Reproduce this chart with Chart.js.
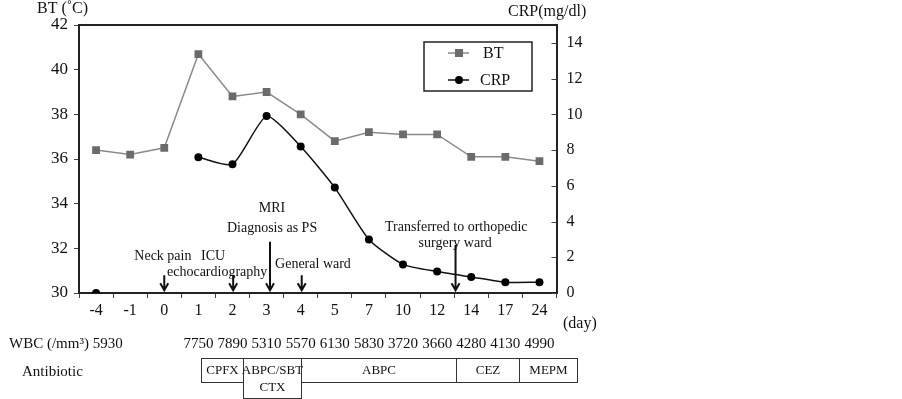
<!DOCTYPE html>
<html lang="en">
<head>
<meta charset="UTF-8" />
<title>BT and CRP course</title>
<script src="https://cdn.jsdelivr.net/npm/chart.js@4"></script>
<style>
  html, body { margin: 0; padding: 0; background: #fff; }
  #wrap { position: relative; width: 902px; height: 399px; }
</style>
</head>
<body>
<div id="wrap"><canvas id="chart" width="902" height="399"></canvas></div>
<script>
const days = ["-4", "-1", "0", "1", "2", "3", "4", "5", "7", "10", "12", "14", "17", "24"];
const bt = [36.4, 36.2, 36.5, 40.7, 38.8, 39.0, 38.0, 36.8, 37.2, 37.1, 37.1, 36.1, 36.1, 35.9];
const crp = [0, null, null, 7.6, 7.2, 9.9, 8.2, 5.9, 3.0, 1.6, 1.2, 0.9, 0.6, 0.6];
const wbc = [5930, null, null, 7750, 7890, 5310, 5570, 6130, 5830, 3720, 3660, 4280, 4130, 4990];
const btTicks = [30, 32, 34, 36, 38, 40, 42];
const crpTicks = [0, 2, 4, 6, 8, 10, 12, 14];

// events on the day axis: "at" is the category index, "top" is where the arrow starts (°C)
const eventArrows = [
  { at: 2, top: 30.8 },
  { at: 4.02, top: 30.8 },
  { at: 5.1, top: 32.3 },
  { at: 6.03, top: 30.8 },
  { at: 10.54, top: 32.15 }
];
const eventLabels = [
  { text: "Neck pain", at: 1.96, bt: 31.66 },
  { text: "ICU", at: 3.43, bt: 31.66 },
  { text: "echocardiography", at: 3.55, bt: 30.94 },
  { text: "MRI", at: 5.16, bt: 33.8 },
  { text: "Diagnosis as PS", at: 5.16, bt: 32.9 },
  { text: "General ward", at: 6.36, bt: 31.3 },
  { text: "Transferred to orthopedic", at: 10.56, bt: 32.96 },
  { text: "surgery ward", at: 10.53, bt: 32.24 }
];

// antibiotic periods on the day axis (category index)
const antibiotics = [
  { name: ["CPFX"], from: 3.07, to: 4.32 },
  { name: ["ABPC/SBT", "CTX"], from: 4.32, to: 6.01 },
  { name: ["ABPC"], from: 6.01, to: 10.54 },
  { name: ["CEZ"], from: 10.54, to: 12.39 },
  { name: ["MEPM"], from: 12.39, to: 14.09 }
];

const serif = "'Liberation Serif', 'DejaVu Serif', serif";

const extras = {
  id: "extras",
  afterDatasetsDraw(chart) {
    const { ctx, chartArea: a, scales } = chart;
    const x = scales.x, y = scales.y, y1 = scales.y1;
    ctx.save();

    // top frame line
    ctx.strokeStyle = "#222";
    ctx.lineWidth = 2;
    ctx.beginPath();
    ctx.moveTo(a.left - 1, a.top);
    ctx.lineTo(a.right + 1, a.top);
    ctx.stroke();

    // right axis ticks point inward
    ctx.lineWidth = 1;
    ctx.strokeStyle = "#444";
    crpTicks.forEach(v => {
      const py = Math.round(y1.getPixelForValue(v)) + 0.5;
      ctx.beginPath();
      ctx.moveTo(a.right - 5, py);
      ctx.lineTo(a.right, py);
      ctx.stroke();
    });

    // axis titles
    ctx.fillStyle = "#111";
    ctx.font = "16px " + serif;
    ctx.textBaseline = "middle";
    ctx.textAlign = "left";
    ctx.fillText("BT (˚C)", 37, 9);
    ctx.fillText("CRP(mg/dl)", 508, 12);
    ctx.fillText("(day)", 563, 324);

    // event arrows
    ctx.strokeStyle = "#111";
    ctx.lineWidth = 2;
    eventArrows.forEach(e => {
      const px = x.getPixelForValue(e.at);
      const top = y.getPixelForValue(e.top);
      const bot = y.getPixelForValue(30.12);
      ctx.beginPath();
      ctx.moveTo(px, top);
      ctx.lineTo(px, bot);
      ctx.moveTo(px - 4, bot - 7);
      ctx.lineTo(px, bot);
      ctx.lineTo(px + 4, bot - 7);
      ctx.stroke();
    });
    ctx.font = "14px " + serif;
    ctx.textAlign = "center";
    eventLabels.forEach(l => {
      ctx.fillText(l.text, x.getPixelForValue(l.at), y.getPixelForValue(l.bt));
    });

    // legend
    ctx.lineWidth = 1.5;
    ctx.strokeStyle = "#222";
    ctx.strokeRect(424, 42, 108, 49);
    ctx.lineWidth = 1.5;
    ctx.strokeStyle = "#888";
    ctx.beginPath(); ctx.moveTo(448, 53); ctx.lineTo(469, 53); ctx.stroke();
    ctx.fillStyle = "#6b6b6b";
    ctx.fillRect(455, 49, 8, 8);
    ctx.strokeStyle = "#111";
    ctx.beginPath(); ctx.moveTo(448, 80); ctx.lineTo(469, 80); ctx.stroke();
    ctx.fillStyle = "#000";
    ctx.beginPath(); ctx.arc(459, 80, 4, 0, Math.PI * 2); ctx.fill();
    ctx.fillStyle = "#111";
    ctx.font = "16px " + serif;
    ctx.textAlign = "left";
    ctx.fillText("BT", 483, 54);
    ctx.fillText("CRP", 480, 81);

    // WBC row
    ctx.font = "15px " + serif;
    ctx.fillText("WBC (/mm³) " + wbc[0], 9, 344);
    ctx.textAlign = "center";
    wbc.forEach((v, i) => {
      if (i === 0 || v === null) return;
      ctx.fillText(String(v), x.getPixelForValue(i), 344);
    });

    // antibiotic row
    ctx.textAlign = "left";
    ctx.fillText("Antibiotic", 22, 372);
    ctx.font = "13px " + serif;
    ctx.textAlign = "center";
    ctx.strokeStyle = "#333";
    ctx.lineWidth = 1;
    antibiotics.forEach(ab => {
      const x0 = Math.round(x.getPixelForValue(ab.from)) + 0.5;
      const x1 = Math.round(x.getPixelForValue(ab.to)) + 0.5;
      const h = ab.name.length > 1 ? 40 : 24;
      ctx.strokeRect(x0, 358.5, x1 - x0, h);
      ab.name.forEach((n, k) => ctx.fillText(n, (x0 + x1) / 2, 371 + k * 17));
    });

    ctx.restore();
  }
};

new Chart(document.getElementById("chart"), {
  type: "line",
  data: {
    labels: days,
    datasets: [
      {
        label: "BT",
        data: bt,
        yAxisID: "y",
        borderColor: "#8a8a8a",
        borderWidth: 1.5,
        pointStyle: "rect",
        pointRadius: 5.5,
        pointBackgroundColor: "#6b6b6b",
        pointBorderWidth: 0,
        tension: 0
      },
      {
        label: "CRP",
        data: crp,
        yAxisID: "y1",
        borderColor: "#111",
        borderWidth: 1.5,
        pointStyle: "circle",
        pointRadius: 4,
        pointBackgroundColor: "#000",
        pointBorderWidth: 0,
        spanGaps: false,
        tension: 0.2
      }
    ]
  },
  options: {
    responsive: false,
    animation: false,
    layout: { padding: { top: 25, left: 0, right: 0, bottom: 0 } },
    plugins: { legend: { display: false }, tooltip: { enabled: false } },
    scales: {
      x: {
        offset: true,
        grid: { offset: true, drawOnChartArea: false, tickLength: 5, tickColor: "#444", tickWidth: 1 },
        border: { display: true, color: "#222", width: 2 },
        ticks: { color: "#111", font: { family: serif, size: 16 }, padding: 3, maxRotation: 0, autoSkip: false },
        afterFit: s => { s.height = 106; }
      },
      y: {
        position: "left",
        min: 30,
        max: 42,
        grid: { drawOnChartArea: false, tickLength: 5, tickColor: "#444", tickWidth: 1 },
        border: { display: true, color: "#222", width: 2 },
        ticks: { color: "#111", font: { family: serif, size: 17 }, padding: 6 },
        afterBuildTicks: s => { s.ticks = btTicks.map(v => ({ value: v })); },
        afterFit: s => { s.width = 79; }
      },
      y1: {
        position: "right",
        min: 0,
        max: 15,
        grid: { drawOnChartArea: false, drawTicks: false },
        border: { display: true, color: "#222", width: 2 },
        ticks: { color: "#111", font: { family: serif, size: 16 }, padding: 10, autoSkip: false },
        afterBuildTicks: s => { s.ticks = crpTicks.map(v => ({ value: v })); },
        afterFit: s => { s.width = 345.5; }
      }
    }
  },
  plugins: [extras]
});
</script>
</body>
</html>
